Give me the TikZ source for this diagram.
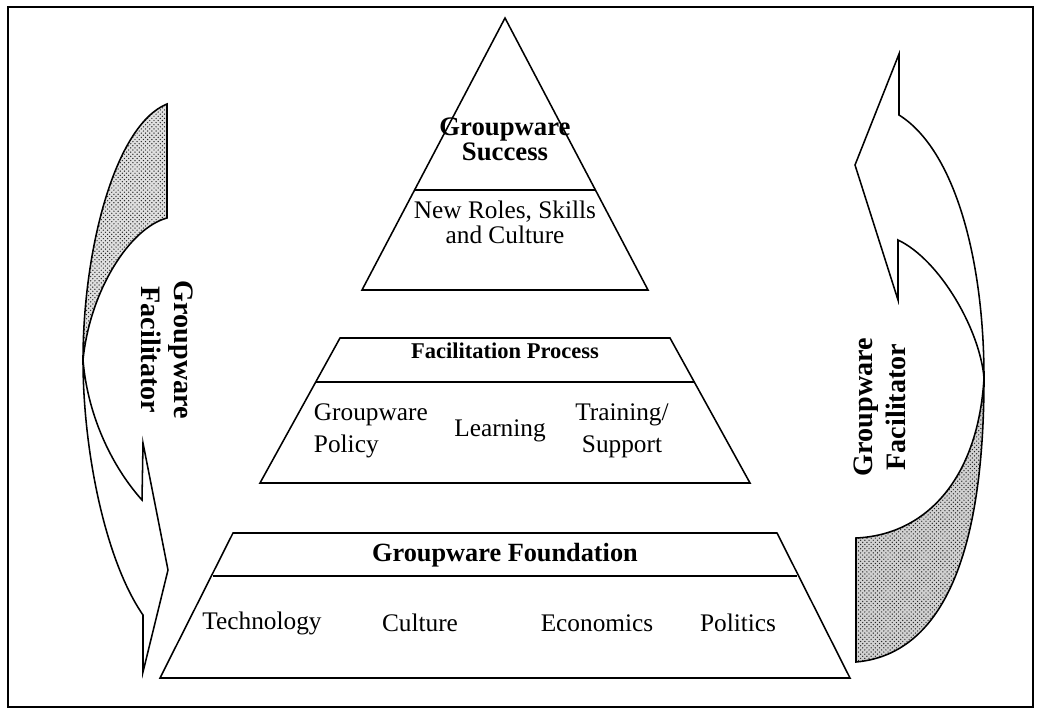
\documentclass[tikz,border=0pt]{standalone}
\usepackage{fontspec}
\setmainfont{Liberation Serif}
\usepackage{tikz}
\usetikzlibrary{patterns}

\begin{document}
\begin{tikzpicture}[
  x=0.025cm, y=-0.025cm,
  layer/.style={draw, line width=1.1pt},
  ribbon/.style={draw, line width=1.1pt, line join=miter},
  backside/.style={pattern=crosshatch dots, pattern color=black!85},
  head/.style={font=\bfseries\fontsize{19}{18}\selectfont, align=center},
  item/.style={font=\fontsize{18}{22.8}\selectfont, align=center},
  side/.style={font=\bfseries\fontsize{20}{23.5}\selectfont, align=center}
]
\useasboundingbox (0,0) rectangle (1038,709);
\draw[line width=1pt] (8,7) rectangle (1033,707);

% top of the pyramid
\draw[layer] (505,18) -- (648,290) -- (362,290) -- cycle;
\draw[layer] (415,190) -- (595,190);
\node[head] (success) at (505,139) {Groupware\\Success};
\node[item, font=\fontsize{18}{18}\selectfont] (roles) at (505,222) {New Roles, Skills\\and Culture};

% middle layer
\draw[layer] (340,338) -- (670,338) -- (750,483) -- (260,483) -- cycle;
\draw[layer] (316,382) -- (694,382);
\node[head, font=\bfseries\fontsize{16}{16}\selectfont] (process) at (505,351) {Facilitation Process};
\node[item, align=left, anchor=west] (policy) at (309,431) {Groupware\\Policy};
\node[item] (learning) at (500,431) {Learning};
\node[item] (training) at (622,431) {Training/\\Support};

% base of the pyramid
\draw[layer] (233,533) -- (777,533) -- (850,678) -- (160,678) -- cycle;
\draw[layer] (213,576) -- (797,576);
\node[head, font=\bfseries\fontsize{18.7}{19}\selectfont] (foundation) at (505,555) {Groupware Foundation};
\node[item] (technology) at (262,623) {Technology};
\node[item] (culture) at (420,623) {Culture};
\node[item] (economics) at (597,623) {Economics};
\node[item] (politics) at (738,623) {Politics};

% left ribbon arrow, pointing down
\fill[black!12] (167,104) .. controls (115,125) and (83,250) .. (83,360)
  .. controls (90,290) and (130,228) .. (167,218) -- cycle;
\fill[backside] (167,104) .. controls (115,125) and (83,250) .. (83,360)
  .. controls (90,290) and (130,228) .. (167,218) -- cycle;
\draw[ribbon] (167,104) .. controls (115,125) and (83,250) .. (83,360)
  .. controls (83,450) and (105,560) .. (143,615)
  -- (143,672) -- (168,570) -- (143,443) -- (142,500)
  .. controls (115,470) and (88,420) .. (83,360)
  .. controls (90,290) and (130,228) .. (167,218) -- cycle;
\node[side, rotate=-90] (facL) at (167,350) {Groupware\\Facilitator};

% right ribbon arrow, pointing up
\fill[black!18] (856,662) .. controls (935,655) and (984,570) .. (984,378)
  .. controls (978,480) and (925,535) .. (856,538) -- cycle;
\fill[backside] (856,662) .. controls (935,655) and (984,570) .. (984,378)
  .. controls (978,480) and (925,535) .. (856,538) -- cycle;
\draw[ribbon] (856,662) .. controls (935,655) and (984,570) .. (984,378)
  .. controls (984,260) and (955,150) .. (899,115)
  -- (899,54) -- (855,165) -- (898,300) -- (898,240)
  .. controls (940,260) and (980,330) .. (984,378)
  .. controls (978,480) and (925,535) .. (856,538) -- cycle;
\node[side, rotate=90] (facR) at (880,407) {Groupware\\Facilitator};
\end{tikzpicture}
\end{document}
